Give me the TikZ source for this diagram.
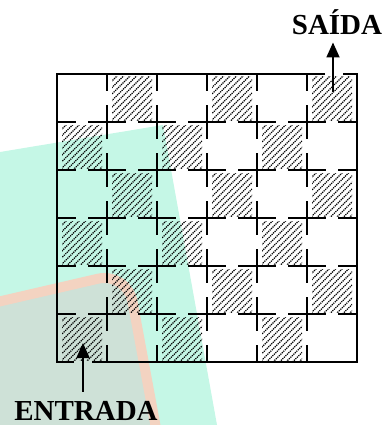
\documentclass[tikz,border=0pt]{standalone}
\usepackage{fontspec}
\setmainfont{Liberation Serif}
\usetikzlibrary{arrows.meta}

\definecolor{veil}{HTML}{C5F7E6}
\definecolor{sheet}{HTML}{CEE1D7}
\definecolor{peach}{HTML}{F3D3C1}

\begin{document}
\begin{tikzpicture}[
        x=1pt, y=-1pt,
        >={Triangle[width=13pt, length=15pt]},
        font=\bfseries\fontsize{29}{29}\selectfont,
        wall/.style={line width=1.9pt},
        hatch/.style={line width=1.2pt, dash pattern=on 1.2pt off 0.9pt},
        band/.style={line width=10pt, draw=peach, rounded corners=30pt},
        line/.style={->, line width=1.8pt},
        caption/.style={anchor=base, inner sep=0pt}
    ]
        \useasboundingbox (0,0) rectangle (387,425);
        \clip (0,0) rectangle (387,425);

        \fill[veil] (0,152) -- (163,125) -- (217,425) -- (0,425) -- cycle;
        \fill[sheet, rounded corners=30pt] (-20,306) -- (127,272) -- (160,450) -- (-20,450) -- cycle;
        \draw[band] (-20,306) -- (127,272) -- (160,450);

        \foreach \r in {0,...,5} {
            \foreach \c in {0,...,5} {
                \pgfmathtruncatemacro\odd{mod(\r+\c,2)}
                \ifnum\odd=1
                    \begin{scope}
                        \clip (57+50*\c+5, 74+48*\r+3) rectangle (57+50*\c+45, 74+48*\r+46);
                        \foreach \d in {-49,-42.5,...,49}
                            \draw[hatch] (57+50*\c+\d, 122+48*\r) -- ++(48,-48);
                    \end{scope}
                \fi
            }
        }

        \draw[wall] (325,74) -- (57,74) -- (57,362) -- (74,362);
        \draw[wall] (343,74) -- (357,74) -- (357,362) -- (92,362);
        \foreach \k in {1,...,5} {
            \foreach \j in {0,...,5} {
                \draw[wall] (57+50*\k, 74+48*\j) -- ++(0,17);
                \draw[wall] (57+50*\k, 122+48*\j) -- ++(0,-17);
                \draw[wall] (57+50*\j, 74+48*\k) -- ++(19,0);
                \draw[wall] (107+50*\j, 74+48*\k) -- ++(-19,0);
            }
        }

        \node[caption] (entrada) at (86,420) {ENTRADA};
        \node[caption] (saida) at (337,35) {SAÍDA};
        \coordinate (inTip) at (83,343);
        \coordinate (outFoot) at (333,92);

        \draw[line, shorten <=9pt] (entrada.north -| inTip) -- (inTip);
        \draw[line, shorten >=7pt] (outFoot) -- (saida.south -| outFoot);
    \end{tikzpicture}
\end{document}
